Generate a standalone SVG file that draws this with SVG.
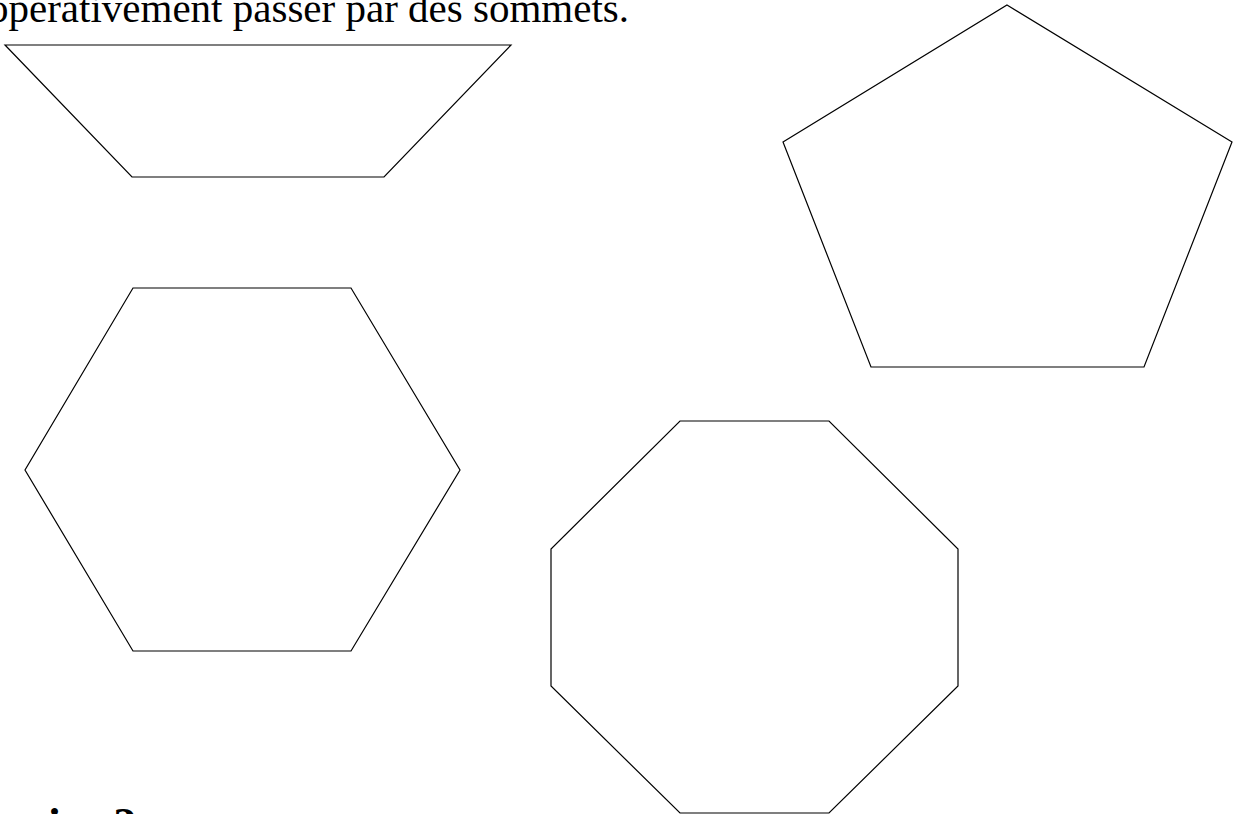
<svg xmlns="http://www.w3.org/2000/svg" width="1234" height="814" viewBox="0 0 1234 814">
<style>
.shape{fill:#fff;stroke:#000;stroke-width:1.2;stroke-linejoin:miter}
.body{font-family:"Liberation Serif","Times New Roman",serif;font-size:41px;fill:#000}
.head{font-family:"Liberation Serif","Times New Roman",serif;font-size:46px;font-weight:bold;fill:#000}
</style>
<rect x="0" y="0" width="1234" height="814" fill="#fff"/>
<text class="body" x="-12" y="22">opérativement passer par des sommets.</text>
<g id="trapezoid"><polygon class="shape" points="5,45 511,45 384,177 132,177"/></g>
<g id="pentagon"><polygon class="shape" points="1007,5 1232,142 1144,367 871,367 783,142"/></g>
<g id="hexagon"><polygon class="shape" points="133,288 351,288 460,470 351,651 133,651 25,470"/></g>
<g id="octagon"><polygon class="shape" points="680,421 829,421 958,549 958,686 829,813 680,813 551,686 551,549"/></g>
<g id="connectors"></g>
<text class="head" x="-66" y="840">Exercice 2</text>
</svg>
